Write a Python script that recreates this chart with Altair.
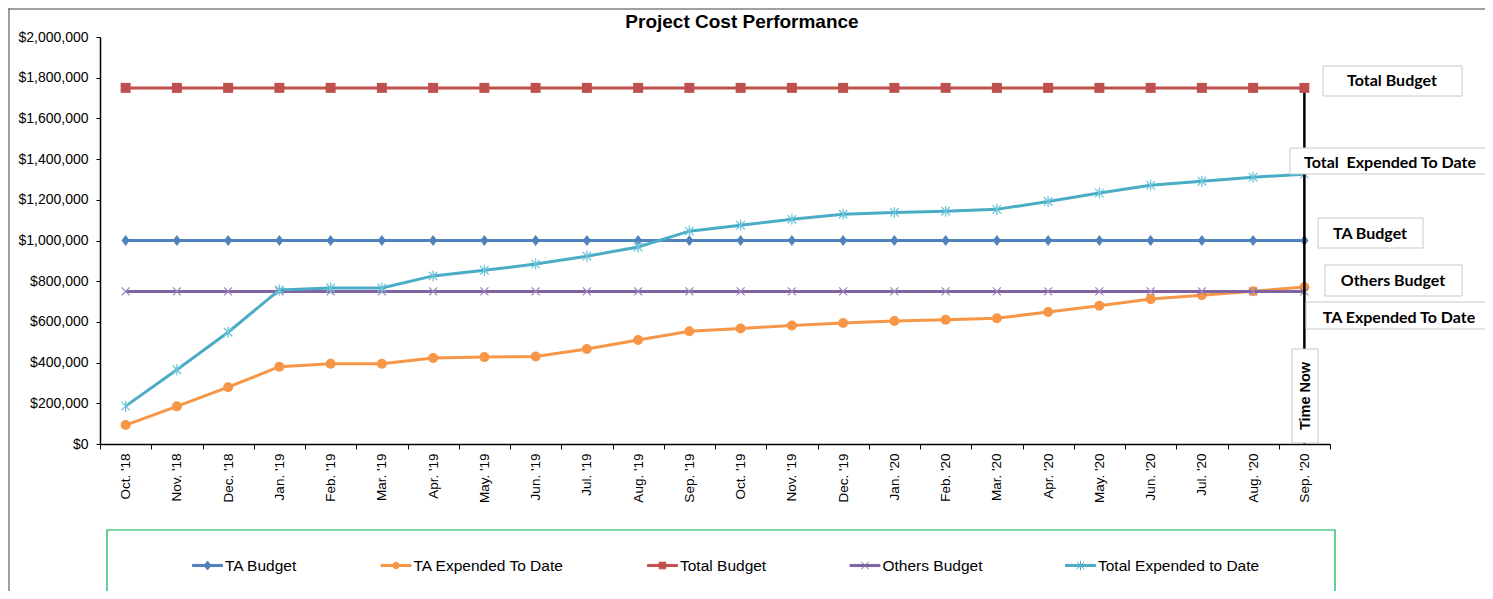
import altair as alt
import pandas as pd

# ---------------- data ----------------
months = ["Oct. '18", "Nov. '18", "Dec. '18", "Jan. '19", "Feb. '19", "Mar. '19",
          "Apr. '19", "May. '19", "Jun. '19", "Jul. '19", "Aug. '19", "Sep. '19",
          "Oct. '19", "Nov. '19", "Dec. '19", "Jan. '20", "Feb. '20", "Mar. '20",
          "Apr. '20", "May. '20", "Jun. '20", "Jul. '20", "Aug. '20", "Sep. '20"]

series_names = ["TA Budget", "TA Expended To Date", "Total Budget",
                "Others Budget", "Total Expended to Date"]

ta_budget = [1000000, 1000000, 1000000, 1000000, 1000000, 1000000,
             1000000, 1000000, 1000000, 1000000, 1000000, 1000000,
             1000000, 1000000, 1000000, 1000000, 1000000, 1000000,
             1000000, 1000000, 1000000, 1000000, 1000000, 1000000]
ta_expended = [93000, 185000, 279000, 380000, 394000, 394000,
               423000, 427000, 430000, 467000, 511000, 554000,
               568000, 582000, 595000, 604000, 610000, 618000,
               649000, 679000, 712000, 731000, 751000, 771000]
total_budget = [1750000, 1750000, 1750000, 1750000, 1750000, 1750000,
                1750000, 1750000, 1750000, 1750000, 1750000, 1750000,
                1750000, 1750000, 1750000, 1750000, 1750000, 1750000,
                1750000, 1750000, 1750000, 1750000, 1750000, 1750000]
others_budget = [750000, 750000, 750000, 750000, 750000, 750000,
                 750000, 750000, 750000, 750000, 750000, 750000,
                 750000, 750000, 750000, 750000, 750000, 750000,
                 750000, 750000, 750000, 750000, 750000, 750000]
total_expended = [186000, 365000, 549000, 757000, 767000, 767000,
                  826000, 854000, 884000, 923000, 968000, 1046000,
                  1075000, 1104000, 1129000, 1138000, 1144000, 1153000,
                  1192000, 1233000, 1271000, 1291000, 1311000, 1326000]

y_ticks = [0, 200000, 400000, 600000, 800000, 1000000,
           1200000, 1400000, 1600000, 1800000, 2000000]

time_now_month = "Sep. '20"
time_now_top = 1750000

# ---------------- build table ----------------
all_values = [ta_budget, ta_expended, total_budget, others_budget, total_expended]
rows = []
for name, vals in zip(series_names, all_values):
    for i, (m, v) in enumerate(zip(months, vals)):
        rows.append({"month": m, "series": name, "value": v, "idx": i})
df = pd.DataFrame(rows)

colors = {
    "TA Budget": "#4F81BD",
    "TA Expended To Date": "#F79646",
    "Total Budget": "#C0504D",
    "Others Budget": "#8064A2",
    "Total Expended to Date": "#4BACC6",
}
marker_style = {
    "TA Budget": dict(shape="M-0.75,0L0,-1L0.75,0L0,1Z", size=121, filled=True, color="#4F81BD"),
    "TA Expended To Date": dict(shape="circle", size=100, filled=True, color="#F79646"),
    "Total Budget": dict(shape="square", size=100, filled=True, color="#C0504D"),
    "Others Budget": dict(shape="M-1,-1L1,1M1,-1L-1,1", size=64, filled=False,
                          color="#9B86BC", strokeWidth=1.3),
    "Total Expended to Date": dict(shape="M-1,-1L1,1M1,-1L-1,1M0,-1.3L0,1.3", size=72,
                                   filled=False, color="#6FC6DC", strokeWidth=1.3),
}

FONT = "Liberation Sans"

x_enc = alt.X("month:N", sort=months,
              scale=alt.Scale(type="band", domain=months, paddingInner=0, paddingOuter=0),
              axis=alt.Axis(title=None, labelAngle=-90, labelFont=FONT, labelFontSize=13.5,
                            labelColor="black", tickColor="black", domainColor="black",
                            tickSize=5, labelPadding=4, tickBand="extent", grid=False,
                            domainWidth=1.5, tickWidth=1))
y_enc = alt.Y("value:Q",
              scale=alt.Scale(domain=[0, 2000000], nice=False),
              axis=alt.Axis(title=None, values=y_ticks, format="$,.0f", labelFont=FONT,
                            labelFontSize=14, labelColor="black", tickColor="black",
                            domainColor="black", tickSize=4, labelPadding=8, grid=False,
                            domainWidth=1.5, tickWidth=1))

base = alt.Chart(df)


def series_layers(name):
    sub = base.transform_filter(alt.datum.series == name)
    line = sub.mark_line(strokeWidth=3, color=colors[name]).encode(
        x=x_enc, y=y_enc, order=alt.Order("idx:Q"))
    st = marker_style[name]
    pt = sub.mark_point(opacity=1, **st).encode(x=x_enc, y=y_enc)
    return [line, pt]


# time-now vertical line
rule_df = pd.DataFrame({"month": [time_now_month], "top": [time_now_top], "bottom": [0]})
time_rule = alt.Chart(rule_df).mark_rule(color="black", strokeWidth=2.5).encode(
    x=alt.X("month:N", sort=months), y=alt.Y("top:Q"), y2="bottom:Q")

# legend (drawn through Vega-Lite's own legend; the carrier mark is clipped away)
LINE = "M-1,-0.07H1V0.07H-1Z"
legend_paths = [
    LINE + "M0,-0.3L0.22,0L0,0.3L-0.22,0Z",
    LINE + "M0.22,0A0.22,0.22,0,1,1,-0.22,0A0.22,0.22,0,1,1,0.22,0Z",
    LINE + "M-0.22,-0.22H0.22V0.22H-0.22Z",
    LINE + "M-0.25,-0.25L0.25,0.25M0.25,-0.25L-0.25,0.25",
    LINE + "M-0.25,-0.25L0.25,0.25M0.25,-0.25L-0.25,0.25M0,-0.32V0.32",
]
leg = alt.Legend(orient="none", legendX=92, legendY=513, direction="horizontal",
                 columns=5, title=None, symbolSize=900, symbolStrokeWidth=1,
                 labelFont=FONT, labelFontSize=15.5, labelColor="black", labelOffset=2,
                 columnPadding=80.5, padding=0, labelLimit=400, symbolOpacity=1)
col_scale = alt.Scale(domain=series_names, range=[colors[s] for s in series_names])
legend_layer = alt.Chart(pd.DataFrame({"series": series_names})).mark_point(
    filled=True, strokeWidth=1, opacity=1, clip=True).encode(
    x=alt.value(-3000), y=alt.value(-3000),
    fill=alt.Fill("series:N", scale=col_scale, legend=leg),
    stroke=alt.Stroke("series:N", scale=col_scale, legend=leg),
    shape=alt.Shape("series:N", scale=alt.Scale(domain=series_names, range=legend_paths),
                    legend=leg),
)

dummy = pd.DataFrame({"d": [0]})

# legend frame (green)
legend_box = alt.Chart(dummy).mark_rect(fill="white", stroke="#00B050", strokeWidth=1.2).encode(
    x=alt.value(7), x2=alt.value(1235), y=alt.value(493), y2=alt.value(620))

# outer chart border
outer_top = alt.Chart(dummy).mark_rule(color="#808080", strokeWidth=1.5).encode(
    x=alt.value(-92), x2=alt.value(1390), y=alt.value(-28))
outer_left = alt.Chart(dummy).mark_rule(color="#808080", strokeWidth=1.5).encode(
    x=alt.value(-91), y=alt.value(-29), y2=alt.value(560))

# title
title = alt.Chart(dummy).mark_text(text="Project Cost Performance", font=FONT,
                                   fontSize=19, fontWeight="bold", color="black",
                                   align="center", baseline="middle").encode(
    x=alt.value(642), y=alt.value(-15))

# annotation boxes: (text, x1, x2, y1, y2, tx, ty)
boxes = [
    ("Total Budget", 1223, 1362, 29, 59, 1292, 44),
    ("Total\u00a0 Expended To Date", 1190, 1420, 111, 137, 1290, 126),
    ("TA Budget", 1218, 1323, 181, 211, 1270, 197),
    ("Others Budget", 1225, 1362, 228, 259, 1293, 244),
    ("TA Expended To Date", 1206, 1420, 265, 292, 1299, 281),
]
box_layers = []
for txt, x1, x2, y1, y2, tx, ty in boxes:
    box_layers.append(alt.Chart(dummy).mark_rect(fill="white", stroke="#C8C8C8",
                                                 strokeWidth=1).encode(
        x=alt.value(x1), x2=alt.value(x2), y=alt.value(y1), y2=alt.value(y2)))
    box_layers.append(alt.Chart(dummy).mark_text(text=txt, font="Lato", fontWeight="bold",
                                                 fontSize=16, color="black", align="center",
                                                 baseline="middle").encode(
        x=alt.value(tx), y=alt.value(ty)))
# Time Now vertical label
box_layers.append(alt.Chart(dummy).mark_rect(fill="white", stroke="#C8C8C8",
                                             strokeWidth=1).encode(
    x=alt.value(1192), x2=alt.value(1218), y=alt.value(312), y2=alt.value(406)))
box_layers.append(alt.Chart(dummy).mark_text(text="Time Now", font=FONT, fontWeight="bold",
                                             fontSize=14.5, color="black", align="center",
                                             baseline="middle", angle=270).encode(
    x=alt.value(1206), y=alt.value(359)))

layers = [outer_top, outer_left, title, legend_box]
for name in ["TA Budget", "TA Expended To Date", "Others Budget", "Total Expended to Date"]:
    layers += series_layers(name)
layers.append(time_rule)
layers += series_layers("Total Budget")
layers += box_layers
layers.append(legend_layer)

chart = alt.layer(*layers).resolve_scale(fill="shared", stroke="shared").properties(
    width=1230, height=407,
    padding={"left": 92, "top": 29, "right": 155, "bottom": 147},
    autosize=alt.AutoSizeParams(type="none"),
    background="white",
).configure_view(stroke=None)

chart.save("out.html", embed_options={"renderer": "svg", "actions": False})
